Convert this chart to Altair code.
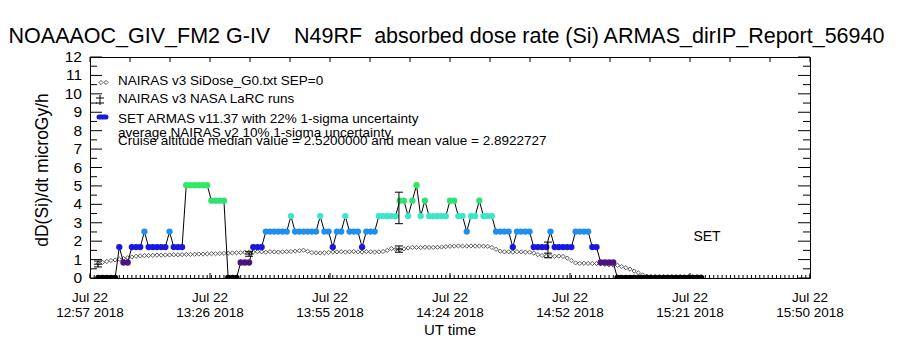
import altair as alt
import pandas as pd

# ---------------- data ----------------
TITLE = "NOAAAOC_GIV_FM2 G-IV\u00a0\u00a0\u00a0\u00a0N49RF\u00a0\u00a0absorbed dose rate (Si) ARMAS_dirIP_Report_56940"
Y_TITLE = "dD(Si)/dt microGy/h"
X_TITLE = "UT time"

# x axis: minutes after 12:57 UT
X_MAX = 172.0
tick_dates = ["Jul\u00a022"] * 7
tick_times = ["12:57 2018", "13:26 2018", "13:55 2018", "14:24 2018",
              "14:52 2018", "15:21 2018", "15:50 2018"]
y_ticks = list(range(13))

# SET ARMAS dose rate, one sample per minute starting at minute 2
armas_start = 2
armas_val = [
    0, 0, 0, 0, 0,
    1.68, 0.84, 0.84, 1.68, 1.68, 1.68, 2.52,
    1.68, 1.68, 1.68, 1.68, 1.68, 2.52, 1.68, 1.68, 1.68,
    5.04, 5.04, 5.04, 5.04, 5.04, 5.04,
    4.20, 4.20, 4.20, 4.20,
    0, 0, 0,
    0.84, 0.84, 0.84, 1.68, 1.68, 1.68,
    2.52, 2.52, 2.52, 2.52, 2.52, 2.52, 3.36,
    2.52, 2.52, 2.52, 2.52, 2.52, 2.52, 3.36,
    2.52, 2.52, 1.68, 2.52, 2.52, 3.36,
    2.52, 2.52, 2.52, 1.68, 2.52, 2.52, 2.52,
    3.36, 3.36, 3.36, 3.36, 3.36,
    4.20, 4.20, 3.36, 4.20, 5.04, 3.36, 4.20,
    3.36, 3.36, 3.36, 3.36, 3.36, 4.20, 4.20, 3.36, 3.36,
    2.52, 3.36, 3.36, 4.20, 3.36, 3.36, 3.36,
    2.52, 2.52, 2.52, 2.52, 1.68, 2.52, 2.52, 2.52, 2.52,
    1.68, 1.68, 1.68, 1.68, 2.52,
    1.68, 1.68, 1.68, 1.68, 1.68,
    2.52, 2.52, 2.52, 2.52, 1.68, 1.68,
    0.84, 0.84, 0.84, 0.84,
    0, 0, 0, 0, 0, 0, 0, 0, 0, 0, 0, 0, 0, 0, 0, 0, 0, 0, 0, 0, 0,
]

# NAIRAS v3 SiDose, one sample per minute starting at minute 2
nairas_start = 2
nairas_val = [
    0.80, 0.85, 0.90, 0.95, 0.98, 1.02, 1.06, 1.10, 1.14, 1.18,
    1.20, 1.21, 1.22, 1.23, 1.24, 1.24, 1.25, 1.25, 1.26, 1.26,
    1.27, 1.28, 1.28, 1.29, 1.30, 1.30, 1.31, 1.32, 1.32, 1.33,
    1.34, 1.35, 1.36, 1.37, 1.38, 1.40, 1.42, 1.41, 1.43, 1.42,
    1.40, 1.43, 1.42, 1.41, 1.42, 1.43, 1.44, 1.46, 1.48, 1.51,
    1.45, 1.38, 1.37, 1.36, 1.37, 1.39, 1.41, 1.42, 1.43, 1.41,
    1.42, 1.44, 1.42, 1.41, 1.43, 1.42, 1.41, 1.42, 1.44, 1.50,
    1.60, 1.56, 1.53, 1.58, 1.63, 1.66, 1.66, 1.65, 1.67, 1.66,
    1.66, 1.67, 1.68, 1.70, 1.72, 1.73, 1.74, 1.73, 1.73, 1.74,
    1.73, 1.74, 1.73, 1.72, 1.66, 1.56, 1.46, 1.42, 1.42, 1.41,
    1.43, 1.42, 1.41, 1.40, 1.35, 1.27, 1.22, 1.19, 1.19, 1.18,
    1.19, 1.17, 1.08, 0.95, 0.82, 0.79, 0.80, 0.79, 0.78, 0.79,
    0.78, 0.74, 0.71, 0.70, 0.69, 0.62, 0.56, 0.48, 0.38, 0.28,
    0.17, 0.10, 0.08, 0.07, 0.07, 0.07, 0.06, 0.07, 0.07, 0.07,
    0.06, 0.07, 0.07, 0.07, 0.07,
]

# NAIRAS v3 NASA LaRC runs (error bars)
larc_min = [1.9, 38.0, 73.8, 109.4]
larc_lo = [0.60, 1.18, 1.40, 1.10]
larc_mid = [0.75, 1.30, 1.57, 1.35]
larc_hi = [0.92, 1.43, 1.74, 1.95]

# average with 22% 1-sigma uncertainty
avg_min = [73.8]
avg_lo = [2.95]
avg_hi = [4.66]

legend_texts = [
    "NAIRAS v3 SiDose_G0.txt SEP=0",
    "NAIRAS v3 NASA LaRC runs",
    "SET ARMAS v11.37 with 22% 1-sigma uncertainty",
    "average NAIRAS v2 10% 1-sigma uncertainty",
    "Cruise altitude median value = 2.5200000 and mean value = 2.8922727",
]

# ---------------- styling ----------------
FONT = "Liberation Sans"
W, H = 720, 221
level_colors = {0: "#000000", 0.84: "#4a1480", 1.68: "#1818e0", 2.52: "#1e8ef0",
                3.36: "#38e6c8", 4.20: "#2ee272", 5.04: "#30e862"}

xs = alt.Scale(domain=[0, X_MAX], nice=False, zero=False)
ys = alt.Scale(domain=[0, 12], nice=False)


def X(f):
    return alt.X(f, type="quantitative", scale=xs, axis=None)


def Y(f):
    return alt.Y(f, type="quantitative", scale=ys, axis=None)


armas_df = pd.DataFrame({
    "m": [armas_start + i for i in range(len(armas_val))],
    "v": armas_val,
})
armas_df["col"] = [level_colors[round(v, 2)] for v in armas_df["v"]]
nairas_df = pd.DataFrame({
    "m": [nairas_start + i for i in range(len(nairas_val))],
    "v": nairas_val,
})
larc_df = pd.DataFrame({"m": larc_min, "lo": larc_lo, "mid": larc_mid, "hi": larc_hi})
avg_df = pd.DataFrame({"m": avg_min, "lo": avg_lo, "hi": avg_hi})

n_lab = len(tick_times)
xtick_df = pd.DataFrame({
    "m": [X_MAX * i / (n_lab - 1) for i in range(n_lab)],
    "d": tick_dates, "t": tick_times, "v": [0.0] * n_lab,
})

# inward tick marks
ymaj = pd.DataFrame({"v": [float(t) for t in y_ticks]})
ymaj["m0"] = 0.0
ymaj["m1"] = X_MAX
ymaj["lab"] = [str(t) for t in y_ticks]
ymin = pd.DataFrame({"v": [t + 0.5 for t in y_ticks[:-1]]})
ymin["m0"] = 0.0
ymin["m1"] = X_MAX
tick_layers = []
for df, col, off, ln in [(ymaj, "m0", 6, 12), (ymaj, "m1", -6, 12),
                         (ymin, "m0", 3.5, 7), (ymin, "m1", -3.5, 7)]:
    tick_layers.append(alt.Chart(df).mark_tick(
        orient="horizontal", size=ln, thickness=1, color="black", opacity=1,
        xOffset=off).encode(y=Y("v"), x=X(col)))
xmin = pd.DataFrame({"m": [float(i) for i in range(0, int(X_MAX) + 1)]})
xmin["v"] = 0.0
tick_layers.append(alt.Chart(xmin).mark_tick(
    orient="vertical", size=3, thickness=1, color="black", opacity=1,
    yOffset=-1.5).encode(x=X("m"), y=Y("v")))
tick_layers.append(alt.Chart(xtick_df).mark_tick(
    orient="vertical", size=5, thickness=1, color="black", opacity=1,
    yOffset=-2.5).encode(x=X("m"), y=Y("v")))
top_df = pd.DataFrame({"m": [X_MAX * i / 18 for i in range(19)]})
top_df["v"] = 12.0
tick_layers.append(alt.Chart(top_df).mark_tick(
    orient="vertical", size=5, thickness=1, color="black", opacity=1,
    yOffset=2.5).encode(x=X("m"), y=Y("v")))

# y tick labels
ylab = alt.Chart(ymaj).mark_text(font=FONT, fontSize=15.5, color="black", align="right",
                                 baseline="middle").encode(
    x=alt.value(-8), y=Y("v"), text="lab:N")

# x tick labels (two lines)
xlab1 = alt.Chart(xtick_df).mark_text(font=FONT, fontSize=13.5, color="black").encode(
    x=X("m"), y=alt.value(241), text="d:N")
xlab2 = alt.Chart(xtick_df).mark_text(font=FONT, fontSize=13.5, color="black").encode(
    x=X("m"), y=alt.value(256), text="t:N")

# NAIRAS diamonds
nairas = alt.Chart(nairas_df).mark_point(shape="diamond", filled=False, color="black",
                                         size=18, strokeWidth=0.9).encode(
    x=X("m"), y=Y("v"))

# ARMAS line and points
armas_line = alt.Chart(armas_df).mark_line(color="black", strokeWidth=1).encode(
    x=X("m"), y=Y("v"))
armas_pts = alt.Chart(armas_df).mark_point(filled=True, shape="circle", size=40,
                                           opacity=1, clip=True).encode(
    x=X("m"), y=Y("v"), color=alt.Color("col:N", scale=None))

# LaRC error bars
larc_rule = alt.Chart(larc_df).mark_rule(color="black", strokeWidth=1).encode(
    x=X("m"), y=Y("lo"), y2="hi:Q")
larc_caps = [alt.Chart(larc_df).mark_tick(orient="horizontal", size=8, thickness=1,
                                         color="black", opacity=1).encode(
    x=X("m"), y=Y(c)) for c in ["lo", "mid", "hi"]]
avg_rule = alt.Chart(avg_df).mark_rule(color="black", strokeWidth=1).encode(
    x=X("m"), y=Y("lo"), y2="hi:Q")
avg_caps = [alt.Chart(avg_df).mark_tick(orient="horizontal", size=8, thickness=1,
                                       color="black", opacity=1).encode(
    x=X("m"), y=Y(c)) for c in ["lo", "hi"]]

# legend
leg_df = pd.DataFrame({"t": legend_texts, "py": [23.7, 42.3, 62.3, 75.7, 83.5]})
leg_text = alt.Chart(leg_df).mark_text(font=FONT, fontSize=13.5, align="left",
                                       baseline="middle", color="black").encode(
    x=alt.value(28), y=alt.Y("py:Q", scale=None, axis=None), text="t:N")
leg_diam = alt.Chart(pd.DataFrame({"px": [11, 16], "py": [25.5, 25.5]})).mark_point(
    shape="diamond", filled=False, color="black", size=18, strokeWidth=0.9).encode(
    x=alt.X("px:Q", scale=None, axis=None), y=alt.Y("py:Q", scale=None, axis=None))
leg_bar = alt.Chart(pd.DataFrame({"a": [0]})).mark_rule(color="black").encode(
    x=alt.value(10), y=alt.value(38), y2=alt.value(48))
leg_bar_caps = alt.Chart(pd.DataFrame({"py": [41, 46]})).mark_rule(color="black").encode(
    x=alt.value(6), x2=alt.value(14), y=alt.Y("py:Q", scale=None, axis=None))
leg_blob = alt.Chart(pd.DataFrame({"a": [0]})).mark_rule(
    color="#1818e0", strokeWidth=5, strokeCap="round").encode(
    x=alt.value(9), x2=alt.value(16), y=alt.value(60))

# texts
title = alt.Chart(pd.DataFrame({"t": [TITLE]})).mark_text(
    font=FONT, fontSize=21.5, color="black", align="center", baseline="middle").encode(
    x=alt.value(356.5), y=alt.value(-20), text="t:N")
ytitle = alt.Chart(pd.DataFrame({"t": [Y_TITLE]})).mark_text(
    font=FONT, fontSize=17.5, color="black", angle=270, align="center",
    baseline="middle").encode(x=alt.value(-47), y=alt.value(113), text="t:N")
xtitle = alt.Chart(pd.DataFrame({"t": [X_TITLE]})).mark_text(
    font=FONT, fontSize=15, color="black", align="center", baseline="middle").encode(
    x=alt.value(360), y=alt.value(273), text="t:N")
set_lab = alt.Chart(pd.DataFrame({"t": ["SET"]})).mark_text(
    font=FONT, fontSize=14, color="black", align="center", baseline="middle").encode(
    x=alt.value(617), y=alt.value(180), text="t:N")

chart = alt.layer(
    *tick_layers, nairas, armas_line, armas_pts,
    larc_rule, *larc_caps, avg_rule, *avg_caps,
    leg_text, leg_diam, leg_bar, leg_bar_caps, leg_blob,
    title, ytitle, xtitle, set_lab, ylab, xlab1, xlab2,
).properties(
    width=W, height=H,
    autosize=alt.AutoSizeParams(type="none"),
    padding={"left": 90, "top": 57, "right": 90, "bottom": 72},
    background="white",
).configure_view(stroke="black", strokeWidth=1)

chart.save("out.html", embed_options={"renderer": "svg", "actions": False})
